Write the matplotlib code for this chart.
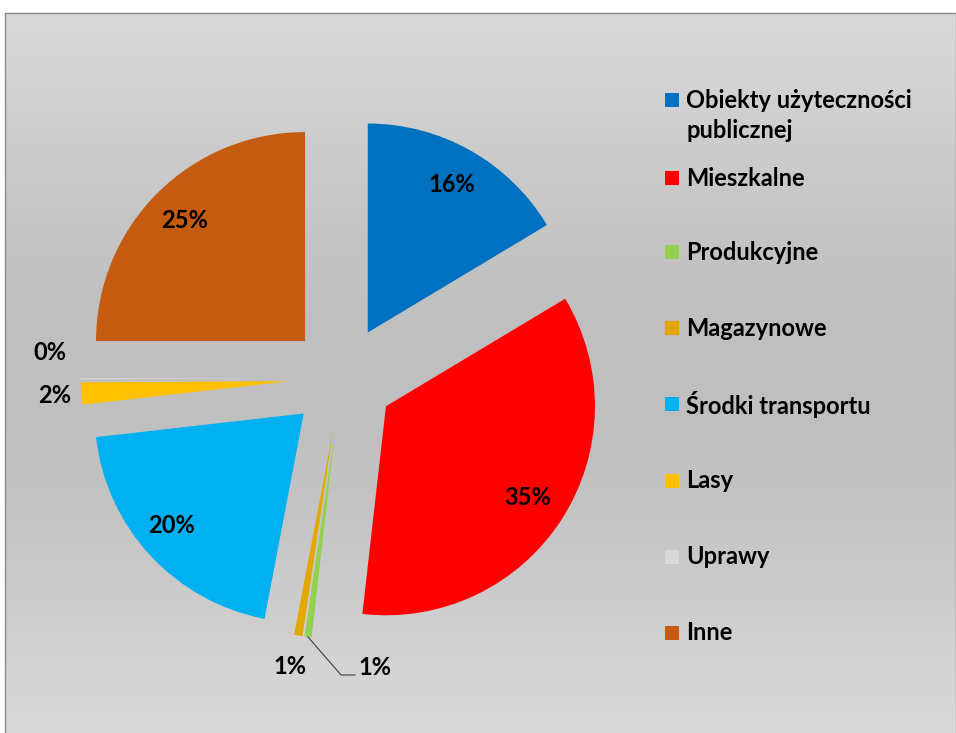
import numpy as np
import matplotlib
matplotlib.use("Agg")
import matplotlib.pyplot as plt
from matplotlib.patches import Rectangle

categories = ["Obiekty użyteczności\npublicznej", "Mieszkalne", "Produkcyjne", "Magazynowe",
              "Środki transportu", "Lasy", "Uprawy", "Inne"]
values = [16.4, 35.4, 0.55, 0.65, 20.2, 1.7, 0.1, 25.0]
colors = ["#0070C0", "#FF0000", "#92D050", "#E3A700", "#00B0F0", "#FFC000", "#D9D9D9", "#C55A11"]

# label placement styles (radius from pie centre, angular shift in degrees, clockwise positive)
label_rad = [1.065, 1.056, 1.392, 1.405, 1.08, 1.376, 1.402, 1.066]
label_shift = [0, 0, -14.0, 0.6, 2.0, 0, 5.2, 0]

W, H = 956, 733
fig = plt.figure(figsize=(W / 100, H / 100), dpi=100)
fig.patch.set_facecolor("white")

# background gradient
bg = fig.add_axes([5 / W, 0, 1 - 5 / W, 1 - 13 / H])
t = np.linspace(0, 1, 256)
g = 0xd9 - (0xd9 - 0xbf) * np.sin(np.pi * t) ** 1.2
img = np.repeat(g[:, None], 2, axis=1) / 255.0
rgb = np.dstack([img, img, img])
bg.imshow(rgb, aspect="auto", extent=[0, 1, 0, 1], origin="upper")
bg.set_xlim(0, 1)
bg.set_ylim(0, 1)
bg.set_xticks([])
bg.set_yticks([])
bg.spines["bottom"].set_visible(False)
for s in ["top", "left", "right"]:
    bg.spines[s].set_color("#8a8a8a")
    bg.spines[s].set_linewidth(1.0)

# pie axes in pixel-proportional units (radius = 209 px)
R = 209.0
cx, cy = 342.0, 378.0
ax = fig.add_axes([0, 0, 1, 1])
ax.patch.set_alpha(0)
wedges, _ = ax.pie(values, colors=colors, startangle=90, counterclock=False,
                   explode=[0.25] * len(values), radius=1.0,
                   wedgeprops=dict(linewidth=0))
ax.set_xlim(-cx / R, (W - cx) / R)
ax.set_ylim(-(H - cy) / R, cy / R)
ax.set_aspect("equal", adjustable="box")
ax.axis("off")

font = dict(family=["Lato", "DejaVu Sans"], fontweight="bold")
FS = 17
total = sum(values)
for i, w in enumerate(wedges):
    mid = np.deg2rad((w.theta1 + w.theta2) / 2.0)
    ang = mid - np.deg2rad(label_shift[i])
    tx = label_rad[i] * np.cos(ang)
    ty = label_rad[i] * np.sin(ang)
    pct = "%.0f%%" % (values[i] / total * 100)
    ax.text(tx, ty, pct, ha="center", va="center", fontsize=FS, color="black", **font)
    if i == 2:
        ox, oy = w.center
        px = ox + 1.0 * np.cos(mid)
        py = oy + 1.0 * np.sin(mid)
        bx = tx - 0.096
        by = ty - 0.038
        ax.plot([px, bx - 0.067, bx], [py, by, by], color="#404040", lw=0.8)

# legend
leg_x = 665 / W
txt_x = 686 / W
rows_y = [100, 178, 252, 328, 404, 481, 557, 633]
for i, (lab, col) in enumerate(zip(categories, colors)):
    yc = rows_y[i]
    fig.patches.append(Rectangle((leg_x, 1 - (yc + 7) / H), 14 / W, 14 / H,
                                 transform=fig.transFigure, facecolor=col,
                                 edgecolor="none"))
    for j, ln in enumerate(lab.split("\n")):
        fig.text(txt_x, 1 - (yc + j * 30) / H, ln, ha="left", va="center",
                 fontsize=FS, color="black", **font)

fig.savefig("out.png", dpi=100)
